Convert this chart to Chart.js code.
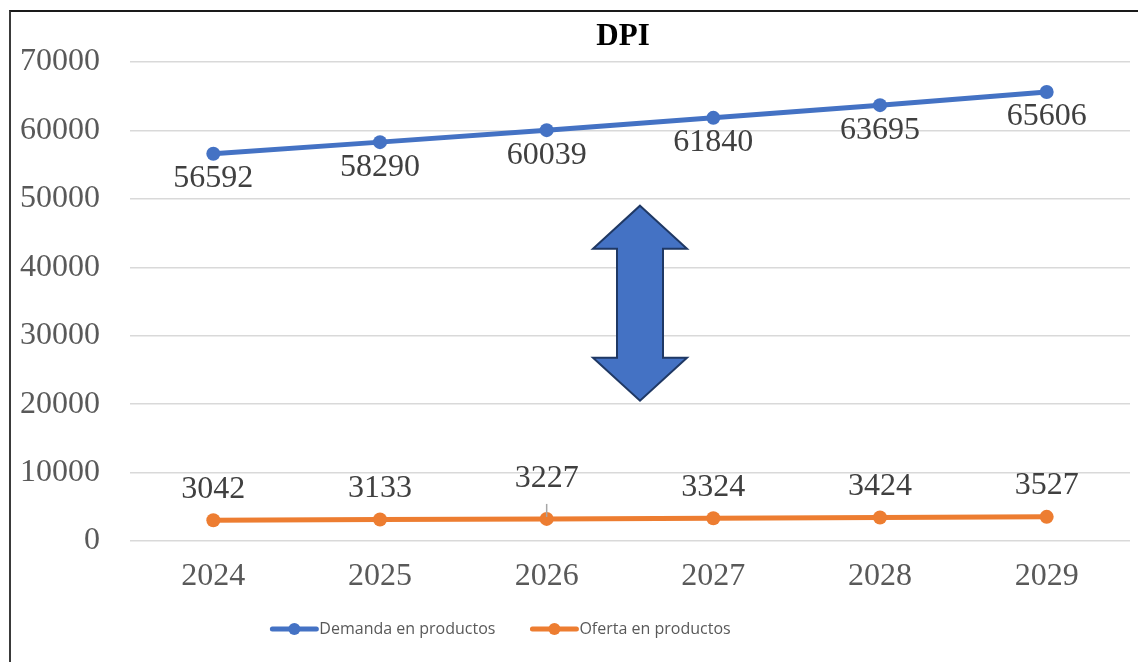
<!DOCTYPE html>
<html>
<head>
<meta charset="utf-8">
<script src="https://cdn.jsdelivr.net/npm/chart.js@4.4.1/dist/chart.umd.min.js"></script>
<style>
html,body{margin:0;padding:0;background:#fff;}
#wrap{position:relative;width:1138px;height:662px;overflow:hidden;}
#frame{position:absolute;left:9px;top:10px;width:1140px;height:700px;border-left:2px solid #3a3a3a;border-top:2px solid #1a1a1a;box-sizing:border-box;pointer-events:none;}
canvas{position:absolute;left:0;top:0;}
</style>
</head>
<body>
<div id="wrap">
<canvas id="c" width="1138" height="662"></canvas>
<div id="frame"></div>
</div>
<script>
const chartTitle = "DPI";
const years = ["2024", "2025", "2026", "2027", "2028", "2029"];
const demanda = [56592, 58290, 60039, 61840, 63695, 65606];
const oferta = [3042, 3133, 3227, 3324, 3424, 3527];
const seriesNames = ["Demanda en productos", "Oferta en productos"];
const yTicks = [0, 10000, 20000, 30000, 40000, 50000, 60000, 70000];
// decorative double arrow: category position and value span
const arrowCat = 2.56;
const arrowFrom = 20500;
const arrowTo = 49000;

const BLUE = "#4472C4", ORANGE = "#ED7D31";
const LEGEND_SHIFT = -77;

const decor = {
  id: "decor",
  afterLayout(chart) {
    const lg = chart.legend;
    if (lg) { lg.left += LEGEND_SHIFT; lg.right += LEGEND_SHIFT; }
  },
  afterDraw(chart) {
    const ctx = chart.ctx;
    const xs = chart.scales.x, ys = chart.scales.y;
    // arrow
    const cx = xs.getPixelForValue(arrowCat);
    const yt = ys.getPixelForValue(arrowTo);
    const yb = ys.getPixelForValue(arrowFrom);
    const headW = 47, shaftW = 23, headL = 43;
    ctx.save();
    ctx.beginPath();
    ctx.moveTo(cx, yt);
    ctx.lineTo(cx + headW, yt + headL);
    ctx.lineTo(cx + shaftW, yt + headL);
    ctx.lineTo(cx + shaftW, yb - headL);
    ctx.lineTo(cx + headW, yb - headL);
    ctx.lineTo(cx, yb);
    ctx.lineTo(cx - headW, yb - headL);
    ctx.lineTo(cx - shaftW, yb - headL);
    ctx.lineTo(cx - shaftW, yt + headL);
    ctx.lineTo(cx - headW, yt + headL);
    ctx.closePath();
    ctx.fillStyle = BLUE;
    ctx.fill();
    ctx.lineWidth = 2;
    ctx.strokeStyle = "#1F3864";
    ctx.lineJoin = "miter";
    ctx.stroke();
    ctx.restore();

    // data labels
    ctx.save();
    ctx.font = "32px 'Liberation Serif', 'Times New Roman', serif";
    ctx.fillStyle = "#404040";
    ctx.textAlign = "center";
    ctx.textBaseline = "middle";
    chart.getDatasetMeta(0).data.forEach((p, i) => {
      ctx.fillText(String(demanda[i]), p.x, p.y + 25);
    });
    chart.getDatasetMeta(1).data.forEach((p, i) => {
      let off = 31;
      if (i === 2) {
        off = 40;
        ctx.save();
        ctx.strokeStyle = "#a6a6a6";
        ctx.lineWidth = 1.5;
        ctx.beginPath();
        ctx.moveTo(p.x, p.y - 2);
        ctx.lineTo(p.x, p.y - 15);
        ctx.stroke();
        ctx.restore();
      }
      ctx.fillText(String(oferta[i]), p.x, p.y - off);
    });
    ctx.restore();

    // title
    ctx.save();
    ctx.font = "bold 31px 'Liberation Serif', 'Times New Roman', serif";
    ctx.fillStyle = "#000";
    ctx.textAlign = "center";
    ctx.textBaseline = "middle";
    const ca = chart.chartArea;
    ctx.fillText(chartTitle, (ca.left + ca.right) / 2 - 7, 37);
    ctx.restore();

    // legend markers (line + dot)
    const lg = chart.legend;
    if (lg && lg.legendHitBoxes) {
      const colors = [BLUE, ORANGE];
      lg.legendHitBoxes.forEach((hb, i) => {
        const x0 = hb.left + 27, x1 = hb.left + 71;
        const y = hb.top + hb.height / 2;
        ctx.save();
        ctx.strokeStyle = colors[i];
        ctx.fillStyle = colors[i];
        ctx.lineWidth = 5;
        ctx.lineCap = "round";
        ctx.beginPath();
        ctx.moveTo(x0, y);
        ctx.lineTo(x1, y);
        ctx.stroke();
        ctx.beginPath();
        ctx.arc((x0 + x1) / 2, y, 6, 0, Math.PI * 2);
        ctx.fill();
        ctx.restore();
      });
    }
  }
};

new Chart(document.getElementById("c"), {
  type: "line",
  data: {
    labels: years,
    datasets: [
      {
        label: seriesNames[0], data: demanda,
        borderColor: BLUE, backgroundColor: BLUE,
        borderWidth: 5, pointRadius: 7, pointHoverRadius: 7,
        pointBorderWidth: 0, tension: 0
      },
      {
        label: seriesNames[1], data: oferta,
        borderColor: ORANGE, backgroundColor: ORANGE,
        borderWidth: 5, pointRadius: 7, pointHoverRadius: 7,
        pointBorderWidth: 0, tension: 0
      }
    ]
  },
  options: {
    responsive: false,
    animation: false,
    devicePixelRatio: 1,
    layout: { padding: { left: 0, right: 8, top: 62, bottom: 15 } },
    plugins: {
      title: { display: false },
      tooltip: { enabled: false },
      legend: {
        display: true,
        position: "bottom",
        labels: {
          font: { family: "'Open Sans', 'Liberation Sans', sans-serif", size: 16 },
          color: "#595959",
          padding: 10,
          boxWidth: 66,
          boxHeight: 14,
          generateLabels(chart) {
            return chart.data.datasets.map((ds, i) => ({
              text: ds.label, fillStyle: "rgba(0,0,0,0)", strokeStyle: "rgba(0,0,0,0)",
              lineWidth: 0, hidden: false, datasetIndex: i, fontColor: "#595959"
            }));
          }
        }
      }
    },
    scales: {
      x: {
        offset: true,
        grid: { display: false, drawTicks: false },
        border: { display: false },
        ticks: {
          font: { family: "'Liberation Serif', 'Times New Roman', serif", size: 32 },
          color: "#595959", padding: 16, maxRotation: 0
        },
        afterFit(s) { s.height = 70; }
      },
      y: {
        min: 0, max: 70000,
        afterBuildTicks(s) { s.ticks = yTicks.map(v => ({ value: v })); },
        grid: { color: "#d9d9d9", lineWidth: 1.5, drawTicks: false },
        border: { display: false },
        ticks: {
          font: { family: "'Liberation Serif', 'Times New Roman', serif", size: 32 },
          color: "#595959", padding: 30,
          callback: (v) => String(v)
        },
        afterFit(s) { s.width = 130; }
      }
    }
  },
  plugins: [decor]
});
</script>
</body>
</html>
